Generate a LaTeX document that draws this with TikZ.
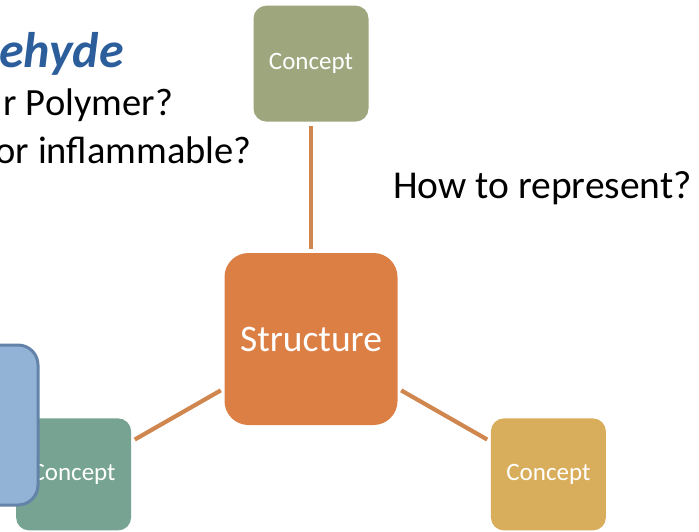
\documentclass[tikz,border=0pt]{standalone}
\usepackage{fontspec}
\setmainfont{Carlito}
\usetikzlibrary{positioning}

\definecolor{hubcolor}{HTML}{DC7F45}
\definecolor{linkcolor}{HTML}{D0874F}
\definecolor{oliveconcept}{HTML}{9DA67C}
\definecolor{tealconcept}{HTML}{76A392}
\definecolor{goldconcept}{HTML}{D8AE5C}
\definecolor{sidefill}{HTML}{93B3D6}
\definecolor{sideborder}{HTML}{6384A8}
\definecolor{titleblue}{HTML}{2D5E9C}

\tikzset{
  concept/.style={rectangle, rounded corners=13pt, minimum width=115pt, minimum height=112pt,
    text=white, font=\fontsize{25}{30}\selectfont, inner sep=0pt},
  hub/.style={rectangle, rounded corners=24pt, fill=hubcolor, minimum width=173pt,
    minimum height=172pt, text=white, font=\fontsize{37.5}{44}\selectfont, inner sep=0pt},
  link/.style={draw=linkcolor, line width=4.2pt, shorten >=4pt, shorten <=4pt},
  question/.style={font=\fontsize{38.5}{46}\selectfont, inner sep=0pt}
}

\begin{document}
\begin{tikzpicture}[x=1pt, y=-1pt]
        \clip (0,0) rectangle (699,531);
        \fill[white] (0,0) rectangle (699,531);

        % text on the left and right
        \node (title) [anchor=base east, inner sep=0pt, text=titleblue,
          font=\fontsize{50}{56}\selectfont\bfseries\itshape] at (124,67) {ehyde};
        \node (polymer) [question, anchor=base east] at (173,115) {r Polymer?};
        \node (inflam) [question, anchor=base east] at (252,163) {or inflammable?};
        \node (represent) [question, anchor=base east, font=\fontsize{39.5}{46}\selectfont] at (692,198) {How to represent?};

        % the map
        \node (structure) [hub] at (311,339) {Structure};
        \node (topconcept) [concept, fill=oliveconcept, minimum height=116pt, above=131pt of structure] {Concept};
        \node (leftconcept) [concept, fill=tealconcept, below left=-7pt and 93pt of structure] {Concept};
        \node (rightconcept) [concept, fill=goldconcept, below right=-7pt and 93pt of structure] {Concept};
        \node (sidebox) [rectangle, rounded corners=20pt, fill=sidefill, draw=sideborder, line width=3pt,
          minimum width=78pt, minimum height=160pt] at (-1,425) {};

        \draw[link] (structure) -- (topconcept);
        \draw[link] (structure) -- (leftconcept);
        \draw[link] (structure) -- (rightconcept);
\end{tikzpicture}
\end{document}
